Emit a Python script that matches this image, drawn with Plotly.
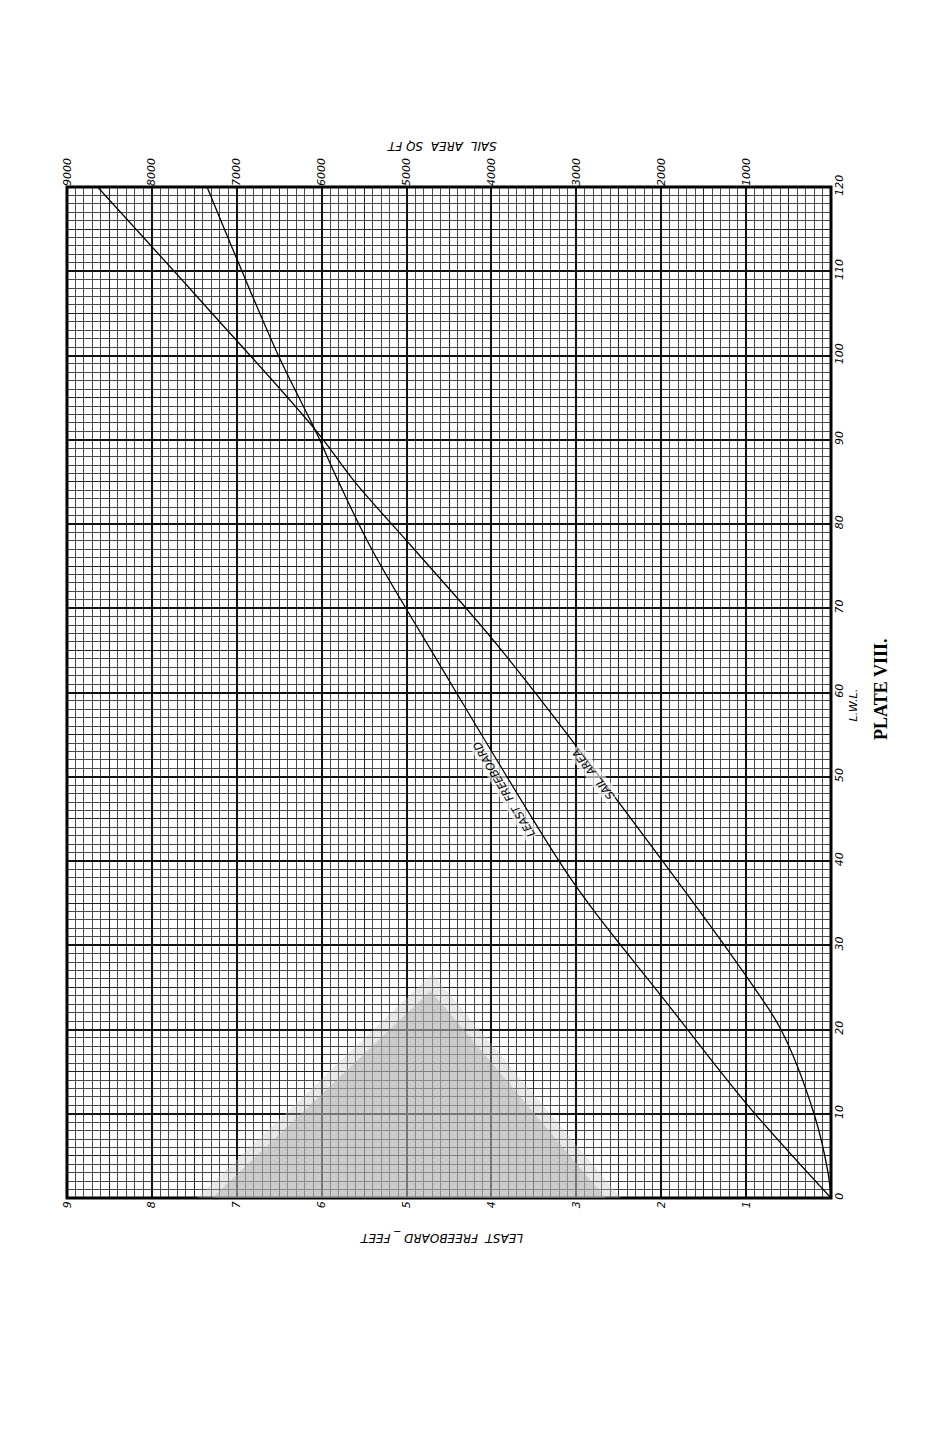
import plotly.graph_objects as go

# ---- data read from the plate ----
fb_lwl = [0, 11, 24, 33, 39, 65, 77, 85, 91, 100, 111, 120]
fb_feet = [0, 0.98, 2.0, 2.71, 3.14, 4.71, 5.41, 5.80, 6.07, 6.51, 6.98, 7.35]

sa_lwl = [0, 3, 10, 20, 26, 37.5, 65, 77, 85, 91, 106, 120]
sa_sqft = [0, 35, 200, 590, 976, 1800, 3880, 4910, 5610, 6060, 7380, 8640]

fb_ticks = [1, 2, 3, 4, 5, 6, 7, 8, 9]
fb_ticktext = [str(v) for v in fb_ticks]
sa_ticks = [1000, 2000, 3000, 4000, 5000, 6000, 7000, 8000, 9000]
sa_ticktext = [str(v) for v in sa_ticks]
lwl_ticks = list(range(0, 121, 5))
lwl_ticktext = [str(v) if v % 10 == 0 else "" for v in lwl_ticks]
fb_half_ticks = [i / 2 for i in range(0, 19)]

tick_font = dict(family="DejaVu Sans", size=11, color="black", style="italic")

fig = go.Figure()
fig.add_trace(go.Scatter(x=fb_feet, y=fb_lwl, xaxis="x", yaxis="y", mode="lines",
                         line=dict(color="black", width=1.3, shape="spline"),
                         showlegend=False, hoverinfo="skip"))
fig.add_trace(go.Scatter(x=sa_sqft, y=sa_lwl, xaxis="x2", yaxis="y2", mode="lines",
                         line=dict(color="black", width=1.3, shape="spline"),
                         showlegend=False, hoverinfo="skip"))

fig.update_layout(
    width=940, height=1438,
    margin=dict(l=59, r=117, t=179, b=248),
    paper_bgcolor="white", plot_bgcolor="white",
    xaxis=dict(range=[9, 0], side="bottom", tickmode="array",
               tickvals=fb_half_ticks,
               ticktext=[str(int(v)) if (v == int(v) and v > 0) else "" for v in fb_half_ticks],
               tickangle=-90, tickfont=tick_font, ticks="", showline=False,
               showgrid=True, gridcolor="#222", gridwidth=1.2,
               minor=dict(dtick=0.1, showgrid=True, gridcolor="#4a4a4a", gridwidth=1),
               zeroline=False),
    xaxis2=dict(range=[9000, 0], overlaying="x", side="top", anchor="y",
                tickmode="array", tickvals=sa_ticks, ticktext=sa_ticktext,
                tickangle=-90, tickfont=tick_font, ticks="",
                showgrid=True, gridcolor="#111", gridwidth=1.5, zeroline=False),
    yaxis=dict(range=[0, 120], side="right", tickmode="array",
               tickvals=lwl_ticks, ticktext=lwl_ticktext,
               tickangle=-90, tickfont=tick_font, ticks="",
               showgrid=True, gridcolor="#222", gridwidth=1.2,
               minor=dict(dtick=1, showgrid=True, gridcolor="#4a4a4a", gridwidth=1),
               zeroline=False),
    yaxis2=dict(range=[0, 120], overlaying="y", side="right", anchor="x",
                tickmode="linear", dtick=10, showticklabels=False, ticks="",
                showgrid=True, gridcolor="#111", gridwidth=1.5, zeroline=False),
)

# heavy frame
fig.add_shape(type="rect", xref="paper", yref="paper", x0=0, y0=0, x1=1, y1=1,
              line=dict(color="black", width=3), layer="above")

# grey smudge of the scan over the lower grid
fig.add_shape(type="path", xref="paper", yref="paper",
              path="M 0.17,0 L 0.478,0.222 L 0.725,0 Z",
              fillcolor="rgba(190,190,190,0.35)", line=dict(width=0), layer="above")
fig.add_shape(type="path", xref="paper", yref="paper",
              path="M 0.19,0 L 0.476,0.205 L 0.705,0 Z",
              fillcolor="rgba(170,170,170,0.45)", line=dict(width=0), layer="above")

label_font = dict(family="DejaVu Sans", size=12, color="black", style="italic")
fig.add_annotation(text="SAIL  AREA  SQ FT", xref="paper", yref="paper",
                   x=0.49, y=1.0406, xanchor="center", yanchor="middle",
                   showarrow=False, textangle=180, font=label_font)
fig.add_annotation(text="LEAST  FREEBOARD _ FEET", xref="paper", yref="paper",
                   x=0.4895, y=-0.0396, xanchor="center", yanchor="middle",
                   showarrow=False, textangle=180, font=label_font)
fig.add_annotation(text="L.W.L.", xref="paper", yref="paper",
                   x=1.03, y=0.488, xanchor="center", yanchor="middle",
                   showarrow=False, textangle=-90,
                   font=dict(family="DejaVu Sans", size=11, color="black", style="italic"))
fig.add_annotation(text="<b>PLATE VIII.</b>", xref="paper", yref="paper",
                   x=1.0654, y=0.5035, xanchor="center", yanchor="middle",
                   showarrow=False, textangle=-90,
                   font=dict(family="Liberation Serif", size=18, color="black"))

curve_font = dict(family="DejaVu Sans", size=11, color="black", style="italic")
fig.add_annotation(text="LEAST  FREEBOARD", xref="x", yref="y", x=3.85, y=48.5,
                   showarrow=False, textangle=-121, font=curve_font,
                   bgcolor="rgba(255,255,255,0.6)")
fig.add_annotation(text="SAIL  AREA", xref="x2", yref="y", x=2800, y=50.3,
                   showarrow=False, textangle=-128, font=curve_font,
                   bgcolor="rgba(255,255,255,0.6)")

fig.write_html("out.html")
